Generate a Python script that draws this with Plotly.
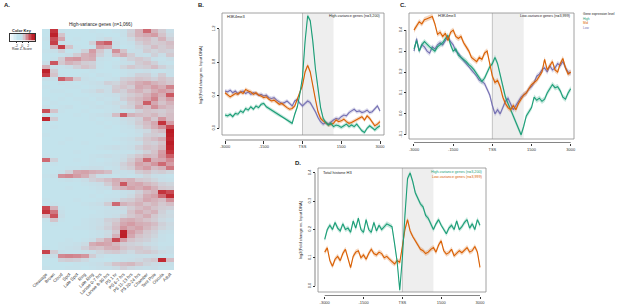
import plotly.graph_objects as go

W, H = 617, 305
def px(x): return x / W
def py(y): return 1 - y / H

FONT = "Liberation Sans, Arial, sans-serif"
GREEN, ORANGE, PURPLE = "#1b9e77", "#d95f02", "#7570b3"

# ---------------- Panel A data ----------------
stages = ["Cleavage", "Brown", "Cloud", "Spot", "Late Spot", "Ring", "Late Ring",
          "Larvae 0-7 hrs", "Larvae 8-30 hrs", "PS 1 hr", "PS 6-7 hrs", "PS 11-13 hrs",
          "PS 20-24 hrs", "Chamber", "Tent Pole", "Oscula", "Adult"]
heat_z = [
    [-0.5, 3.0, -0.4, -0.5, -0.5, -0.5, -0.4, -0.5, -0.5, -0.4, -0.3, 0.2, 0.8, 2.0, 0.8, 0.3, -0.2],
    [-0.5, 3.5, 0.5, -0.5, -0.5, -0.5, -0.5, -0.4, -0.5, -0.5, -0.3, 0.3, 0.8, 1.0, 1.2, 0.5, 0.0],
    [-0.4, 2.5, 1.0, -0.5, -0.4, -0.5, -0.5, -0.3, 0.0, -0.4, -0.4, 0.0, 0.5, 0.6, 0.3, 0.8, 0.2],
    [-0.5, 2.8, -0.3, -0.4, -0.5, -0.5, 0.2, 1.8, 2.2, -0.2, -0.4, -0.3, 0.2, 0.5, 0.3, 0.4, 0.6],
    [-0.5, 0.8, 2.8, 0.5, -0.4, -0.5, -0.4, 1.2, 1.0, -0.3, -0.5, -0.4, 0.0, 0.2, 0.6, 0.3, 0.5],
    [-0.4, -0.3, 0.2, -0.5, -0.4, 0.2, 1.2, 0.4, -0.2, 1.4, 0.5, -0.3, -0.2, 0.3, 0.1, 0.3, 0.2],
    [-0.5, -0.5, -0.4, -0.2, 0.3, 0.8, 1.0, 0.2, -0.3, 0.6, 0.9, 0.3, -0.2, -0.3, 0.2, -0.2, 0.4],
    [-0.5, -0.4, 0.3, 1.2, 1.3, 0.8, 0.9, -0.3, -0.4, -0.5, -0.2, 0.2, 0.4, 0.2, -0.3, -0.4, -0.2],
    [-0.2, 2.3, 0.4, 0.8, 0.6, 0.3, 0.2, -0.4, -0.5, -0.4, -0.3, -0.2, 0.3, 0.5, 0.2, -0.3, -0.4],
    [0.8, -0.3, -0.4, -0.2, 0.2, 0.5, 0.3, -0.4, -0.5, -0.3, 0.1, 0.4, 0.2, 0.3, 0.6, 0.2, -0.1],
    [3.5, 0.3, -0.5, -0.5, -0.5, -0.5, -0.4, -0.5, -0.5, -0.5, -0.4, -0.3, -0.3, -0.2, -0.4, -0.4, -0.3],
    [2.8, 0.5, -0.4, -0.5, -0.5, -0.4, -0.5, -0.3, -0.4, -0.5, -0.4, -0.2, 0.2, 0.2, -0.2, 0.3, -0.3],
    [-0.3, -0.3, 2.2, 1.5, 0.4, -0.3, -0.4, -0.5, -0.4, -0.3, 0.2, 0.3, 0.5, 0.4, 0.2, 0.5, 0.3],
    [-0.5, -0.5, -0.3, -0.4, -0.5, -0.4, -0.3, -0.2, 0.2, 0.1, 0.4, 0.6, 0.9, 1.1, 0.8, 0.6, 0.4],
    [-0.4, -0.5, -0.5, -0.4, -0.4, -0.5, -0.4, -0.3, -0.2, 0.3, 0.5, 0.3, 1.0, 0.8, 1.2, 0.9, 1.6],
    [-0.5, -0.4, -0.4, -0.5, -0.5, -0.3, -0.2, 0.1, -0.2, 0.4, 0.2, 0.6, 0.8, 0.5, 0.9, 1.2, 1.0],
    [-0.5, -0.5, -0.5, -0.4, -0.5, -0.5, -0.4, -0.4, -0.3, -0.2, 0.1, 0.3, 0.5, 0.8, 1.3, 0.9, 2.3],
    [-0.4, -0.5, -0.4, -0.5, -0.4, -0.4, -0.5, -0.3, -0.4, -0.3, 0.2, 0.5, 0.7, 1.0, 1.6, 0.7, 1.2],
    [-0.5, -0.4, -0.5, -0.5, -0.5, -0.4, -0.4, -0.5, -0.3, -0.1, -0.2, 0.3, 0.6, 2.2, 1.0, 0.5, 0.8],
    [-0.3, -0.5, -0.4, -0.3, -0.5, -0.5, -0.4, -0.3, -0.4, -0.3, 0.1, 0.2, 0.9, 0.6, 1.4, 0.8, 0.6],
    [2.5, 0.5, -0.4, -0.5, -0.5, -0.4, -0.5, -0.5, -0.4, -0.3, -0.4, -0.2, 0.2, 0.5, 0.4, 0.3, 0.5],
    [-0.4, -0.5, -0.5, -0.5, -0.4, -0.5, -0.4, -0.3, -0.2, 0.6, 2.2, 0.8, 0.6, 0.5, 0.7, 0.4, 0.6],
    [3.4, 0.3, -0.5, -0.5, -0.5, -0.5, -0.4, -0.5, -0.4, -0.4, -0.2, 0.0, 0.2, 0.9, 0.4, 1.3, 0.6],
    [-0.5, -0.5, -0.5, -0.5, -0.5, -0.5, -0.5, -0.4, -0.5, -0.4, -0.3, -0.1, 0.3, 0.6, 1.0, 3.0, 1.2],
    [-0.5, -0.4, -0.5, -0.5, -0.5, -0.5, -0.5, -0.5, -0.4, -0.5, -0.4, -0.3, 0.1, 0.5, 0.9, 1.4, 2.6],
    [-0.5, -0.5, -0.5, -0.5, -0.5, -0.5, -0.5, -0.5, -0.5, -0.5, -0.4, -0.4, -0.2, 0.0, 0.4, 0.6, 3.8],
    [-0.4, -0.5, -0.5, -0.5, -0.5, -0.5, -0.5, -0.4, -0.5, -0.5, -0.5, -0.4, -0.3, 0.2, 0.3, 0.2, 3.6],
    [-0.5, -0.5, -0.5, -0.4, -0.5, -0.5, -0.5, -0.5, -0.5, -0.4, -0.3, -0.2, 0.1, 0.4, 0.6, 0.9, 3.3],
    [-0.5, -0.5, -0.4, -0.5, -0.5, -0.4, -0.5, -0.5, -0.5, -0.5, -0.4, -0.3, -0.2, 0.3, 0.2, 0.5, 3.7],
    [-0.5, -0.5, -0.5, -0.5, -0.5, -0.5, -0.5, -0.4, -0.3, -0.2, -0.3, -0.2, 0.2, 0.5, 0.4, 0.7, 3.4],
    [-0.5, -0.5, -0.5, -0.5, -0.4, -0.5, -0.5, -0.5, -0.5, -0.4, -0.4, -0.4, -0.1, 0.2, 0.5, 1.2, 3.0],
    [-0.4, -0.5, -0.5, -0.5, -0.5, -0.5, -0.4, -0.3, -0.2, -0.3, -0.2, 0.1, 0.4, 0.7, 0.6, 1.3, 2.2],
    [2.0, 0.2, -0.5, -0.5, -0.4, -0.5, -0.4, -0.5, -0.4, -0.3, -0.1, 0.3, 0.8, 2.0, 0.9, 1.0, 1.5],
    [-0.5, -0.4, -0.5, -0.5, -0.5, -0.5, -0.4, -0.4, -0.3, -0.2, 0.2, 0.5, 1.1, 0.9, 1.3, 2.0, 1.2],
    [-0.5, -0.5, -0.5, -0.4, -0.4, -0.3, -0.2, -0.2, -0.4, -0.3, 0.1, 0.3, 0.9, 1.2, 0.6, 0.8, 1.8],
    [-0.5, -0.5, -0.3, 0.2, 1.0, 1.1, 0.9, 0.8, 0.6, -0.2, -0.3, -0.2, 0.3, 0.5, 0.2, 0.3, 0.1],
    [-0.4, -0.3, 1.4, 1.5, 1.2, 0.9, 0.3, -0.2, -0.3, -0.4, -0.3, -0.4, -0.2, 0.1, -0.2, -0.3, -0.4],
    [-0.5, -0.5, -0.4, -0.3, -0.4, -0.2, 0.2, 0.4, 0.6, 0.9, 0.7, 0.8, 0.4, 0.3, 0.1, -0.2, -0.3],
    [-0.5, -0.5, -0.5, -0.5, -0.5, -0.4, -0.3, -0.2, 0.3, 0.8, 2.3, 0.9, 1.0, 0.7, 0.5, 0.2, 0.1],
    [-0.5, -0.5, -0.5, -0.4, -0.5, -0.5, -0.4, -0.3, -0.2, 0.6, 0.8, 1.1, 0.9, 1.2, 0.8, 0.4, 0.3],
    [-0.5, -0.5, -0.5, -0.5, -0.5, -0.5, -0.5, -0.4, -0.5, -0.4, -0.3, -0.2, 0.2, 0.6, 0.8, 3.0, 2.5],
    [-0.5, -0.5, -0.5, -0.5, -0.5, -0.5, -0.4, -0.5, -0.4, -0.4, -0.3, 0.0, 0.4, 0.9, 1.1, 2.0, 3.2],
    [-0.4, -0.5, -0.5, -0.5, -0.4, -0.5, -0.5, -0.4, -0.3, -0.2, 0.2, 0.3, 0.6, 1.0, 0.8, 0.6, 1.4],
    [-0.5, -0.4, -0.5, -0.5, -0.5, -0.4, -0.3, -0.2, 0.3, 2.0, 0.8, 0.6, 0.8, 0.5, 0.7, 0.4, 0.6],
    [2.6, 0.8, -0.4, -0.5, -0.5, -0.5, -0.4, -0.4, -0.3, -0.2, 0.0, 0.3, 0.6, 0.8, 0.5, 0.3, 0.2],
    [3.0, 1.8, -0.3, -0.5, -0.5, -0.5, -0.5, -0.4, -0.3, -0.3, -0.2, 0.5, 0.9, 0.6, 0.8, 0.2, -0.1],
    [0.6, 2.4, -0.2, -0.5, -0.5, -0.5, -0.4, -0.4, -0.3, -0.2, 0.1, 0.4, 0.6, 0.9, 0.4, 0.1, 0.0],
    [-0.4, 0.5, -0.4, -0.5, -0.5, -0.4, -0.3, -0.2, 0.2, 0.3, 0.8, 0.9, 0.7, 0.5, 0.3, 0.0, -0.2],
    [-0.5, -0.4, -0.5, -0.5, -0.5, -0.4, -0.3, -0.2, 0.1, 0.5, 1.0, 1.2, 0.9, 0.8, 0.6, 0.2, 0.0],
    [-0.5, -0.5, -0.5, -0.5, -0.4, -0.4, -0.3, -0.1, 0.2, 0.6, 1.3, 0.9, 1.1, 0.7, 0.4, 0.1, -0.1],
    [-0.5, -0.5, -0.5, -0.5, -0.5, -0.5, -0.4, -0.3, -0.1, 0.4, 3.5, 1.2, 0.8, 0.4, 0.2, -0.2, -0.3],
    [-0.5, -0.5, -0.5, -0.5, -0.5, -0.5, -0.4, -0.3, 0.0, 0.8, 3.6, 1.0, 0.5, 0.3, 0.1, -0.3, -0.4],
    [-0.5, -0.5, -0.5, -0.4, -0.5, -0.4, -0.2, 0.4, 0.9, 2.6, 1.2, 0.5, 0.3, 0.2, -0.1, -0.3, -0.4],
    [-0.5, -0.5, -0.4, -0.4, -0.3, -0.1, 0.9, 1.1, 1.0, 0.7, 0.3, 0.2, 0.1, -0.1, -0.2, -0.4, -0.4],
    [-0.4, -0.5, -0.4, -0.3, -0.2, 0.2, 0.6, 0.5, 0.8, 0.9, 0.5, 0.3, 0.4, 0.2, 0.0, -0.3, -0.2],
    [2.7, 0.3, -0.3, -0.4, -0.4, -0.3, -0.2, 0.1, 0.3, 0.4, 0.2, 0.0, 0.3, 0.4, 0.2, 0.0, -0.2],
    [-0.3, -0.2, 1.5, 1.6, 1.5, 1.3, 0.3, -0.2, -0.4, -0.4, -0.3, -0.3, -0.2, -0.3, -0.2, -0.4, -0.4],
    [-0.5, -0.5, 0.2, 0.3, 0.2, 0.0, -0.4, -0.4, -0.5, -0.4, -0.3, -0.2, 0.0, 0.2, 0.4, 3.2, 0.6],
    [-0.5, -0.5, -0.5, -0.5, -0.4, -0.4, -0.3, -0.2, 0.1, 0.5, 0.6, 0.7, 0.4, 0.1, -0.1, -0.2, -0.3],
    [-0.4, -0.5, -0.5, -0.4, -0.4, -0.5, -0.4, -0.3, -0.3, -0.1, 0.2, 0.0, -0.2, -0.3, -0.2, -0.4, -0.4],
]
gene_rows = list(range(len(heat_z)))
key_levels = [-4, -3.5, -3, -2.5, -2, -1.5, -1, -0.5, 0, 0.5, 1, 1.5, 2, 2.5, 3, 3.5, 4]
key_ticks = [-2, 0, 2]

# ---------------- Profiles (B, C, D) ----------------
positions = list(range(-3000, 3001, 100))
tick_vals = [-3000, -1500, 0, 1500, 3000]
tick_text = ["-3000", "-1500", "TSS", "1500", "3000"]
shade_end = 1200

B_high = [0.16, 0.15, 0.17, 0.14, 0.18, 0.17, 0.21, 0.19, 0.24, 0.22, 0.26, 0.23, 0.27, 0.25, 0.29,
          0.30, 0.26, 0.24, 0.22, 0.20, 0.18, 0.16, 0.15, 0.13, 0.11, 0.08, 0.06, 0.17, 0.26, 0.42,
          0.62, 1.05, 1.36, 1.30, 1.05, 0.72, 0.45, 0.25, 0.12, 0.07, 0.04, 0.06, 0.02, 0.04, 0.03,
          0.01, 0.03, 0.05, 0.02, 0.04, 0.02, 0.05, 0.01, -0.03, -0.05, 0.00, 0.03, 0.01, -0.02, 0.01, 0.03]
B_mid = [0.43, 0.40, 0.38, 0.40, 0.42, 0.41, 0.44, 0.42, 0.47, 0.45, 0.44, 0.41, 0.43, 0.40, 0.39,
         0.37, 0.38, 0.35, 0.33, 0.34, 0.31, 0.29, 0.30, 0.27, 0.25, 0.23, 0.24, 0.27, 0.35, 0.43,
         0.52, 0.68, 0.76, 0.68, 0.50, 0.35, 0.20, 0.12, 0.09, 0.07, 0.04, 0.05, 0.06, 0.10, 0.08,
         0.09, 0.11, 0.08, 0.06, 0.07, 0.09, 0.11, 0.12, 0.14, 0.10, 0.15, 0.12, 0.07, 0.03, 0.05, 0.08]
B_low = [0.45, 0.44, 0.46, 0.43, 0.45, 0.42, 0.44, 0.45, 0.42, 0.44, 0.41, 0.43, 0.42, 0.40, 0.41,
         0.39, 0.40, 0.37, 0.36, 0.37, 0.34, 0.32, 0.30, 0.31, 0.33, 0.30, 0.27, 0.33, 0.35, 0.30,
         0.27, 0.30, 0.33, 0.31, 0.26, 0.20, 0.13, 0.08, 0.05, 0.07, 0.05, 0.08, 0.10, 0.12, 0.11,
         0.14, 0.16, 0.15, 0.19, 0.21, 0.23, 0.20, 0.21, 0.19, 0.20, 0.22, 0.19, 0.20, 0.24, 0.27, 0.21]
B_se = 0.025

C_high = [0.31, 0.35, 0.30, 0.33, 0.345, 0.33, 0.32, 0.31, 0.30, 0.32, 0.33, 0.34, 0.36, 0.375, 0.33,
          0.30, 0.31, 0.28, 0.27, 0.26, 0.25, 0.235, 0.225, 0.21, 0.19, 0.17, 0.155, 0.17, 0.20, 0.225,
          0.24, 0.27, 0.24, 0.19, 0.13, 0.08, 0.05, 0.02, -0.01, -0.04, -0.07, -0.10, -0.06, -0.01, 0.01,
          0.03, 0.08, 0.065, 0.075, 0.06, 0.07, 0.10, 0.12, 0.14, 0.125, 0.13, 0.11, 0.08, 0.07, 0.10, 0.12]
C_mid = [0.40, 0.42, 0.44, 0.43, 0.45, 0.455, 0.46, 0.465, 0.43, 0.38, 0.39, 0.37, 0.385, 0.35, 0.39,
         0.40, 0.37, 0.36, 0.37, 0.34, 0.32, 0.30, 0.27, 0.26, 0.25, 0.27, 0.26, 0.29, 0.30, 0.24,
         0.18, 0.15, 0.16, 0.13, 0.08, 0.05, 0.03, 0.02, 0.04, 0.02, 0.05, 0.07, 0.09, 0.10, 0.12,
         0.14, 0.15, 0.16, 0.18, 0.20, 0.26, 0.21, 0.23, 0.25, 0.21, 0.20, 0.24, 0.265, 0.22, 0.19, 0.20]
C_low = [0.30, 0.36, 0.30, 0.33, 0.32, 0.30, 0.29, 0.32, 0.31, 0.33, 0.34, 0.33, 0.35, 0.37, 0.345,
         0.33, 0.30, 0.29, 0.27, 0.255, 0.24, 0.23, 0.21, 0.20, 0.18, 0.16, 0.155, 0.145, 0.12, 0.09,
         0.04, 0.00, 0.02, 0.00, 0.03, 0.06, 0.075, 0.05, 0.02, 0.04, 0.06, 0.08, 0.09, 0.10, 0.12,
         0.13, 0.15, 0.18, 0.19, 0.21, 0.22, 0.20, 0.23, 0.21, 0.22, 0.24, 0.23, 0.25, 0.22, 0.20, 0.195]
C_se = 0.013

D_high = [0.165, 0.20, 0.215, 0.20, 0.225, 0.205, 0.195, 0.22, 0.20, 0.205, 0.19, 0.23, 0.205, 0.24, 0.20,
          0.19, 0.235, 0.20, 0.19, 0.225, 0.195, 0.215, 0.20, 0.21, 0.22, 0.215, 0.21, 0.15, 0.085, -0.015,
          0.10, 0.25, 0.38, 0.40, 0.37, 0.33, 0.31, 0.29, 0.28, 0.25, 0.24, 0.22, 0.20, 0.22, 0.235,
          0.215, 0.20, 0.185, 0.205, 0.215, 0.20, 0.23, 0.20, 0.21, 0.225, 0.235, 0.205, 0.22, 0.20, 0.235, 0.215]
D_low = [0.12, 0.135, 0.09, 0.07, 0.095, 0.105, 0.09, 0.115, 0.13, 0.10, 0.065, 0.105, 0.12, 0.125, 0.10,
         0.11, 0.095, 0.115, 0.13, 0.115, 0.11, 0.12, 0.115, 0.10, 0.105, 0.095, 0.085, 0.078, 0.09, 0.084,
         0.14, 0.20, 0.235, 0.195, 0.175, 0.16, 0.145, 0.13, 0.125, 0.115, 0.12, 0.13, 0.136, 0.12, 0.145,
         0.16, 0.125, 0.113, 0.118, 0.13, 0.107, 0.115, 0.125, 0.118, 0.128, 0.136, 0.12, 0.125, 0.14, 0.12, 0.066]
D_se = 0.009


def rgba(hexc, a):
    h = hexc.lstrip("#")
    return "rgba(%d,%d,%d,%s)" % (int(h[0:2], 16), int(h[2:4], 16), int(h[4:6], 16), a)


fig = go.Figure()

heat_colors = [[0.0, "#f6fbfc"], [0.3, "#c3e5ee"], [0.44, "#c3e3ec"], [0.5, "#ccd9e1"],
               [0.56, "#d4c4cb"], [0.65, "#d49ca5"], [0.78, "#cc5b64"], [0.9, "#c12a33"], [1.0, "#b7151f"]]
fig.add_trace(go.Heatmap(z=heat_z, x=stages, y=gene_rows, xaxis="x", yaxis="y",
                         colorscale=heat_colors, zmin=-4, zmax=4, showscale=False, hoverinfo="skip"))
# colour key
fig.add_trace(go.Heatmap(z=[key_levels], x=key_levels, y=[0], xaxis="x5", yaxis="y5",
                         colorscale=heat_colors, zmin=-4, zmax=4, showscale=False, hoverinfo="skip"))


def add_series(xa, ya, vals, se, color):
    up = [v + se for v in vals]
    lo = [v - se for v in vals]
    fig.add_trace(go.Scatter(x=positions + positions[::-1], y=up + lo[::-1], xaxis=xa, yaxis=ya,
                             fill="toself", fillcolor=rgba(color, 0.25), line=dict(width=0),
                             mode="lines", hoverinfo="skip", showlegend=False))
    fig.add_trace(go.Scatter(x=positions, y=vals, xaxis=xa, yaxis=ya, mode="lines",
                             line=dict(color=color, width=1.1), showlegend=False))


add_series("x2", "y2", B_low, B_se, PURPLE)
add_series("x2", "y2", B_mid, B_se, ORANGE)
add_series("x2", "y2", B_high, B_se, GREEN)
add_series("x3", "y3", C_low, C_se, PURPLE)
add_series("x3", "y3", C_high, C_se, GREEN)
add_series("x3", "y3", C_mid, C_se, ORANGE)
add_series("x4", "y4", D_low, D_se, ORANGE)
add_series("x4", "y4", D_high, D_se, GREEN)

tickfont = dict(size=4, family=FONT, color="#333")
panels = {
    "2": dict(frame=(222, 384, 13, 135), xline=140, yline=219, xr=[-3116, 3155], yr=[-0.081, 1.393],
              yt=[0.0, 0.4, 0.8, 1.2]),
    "3": dict(frame=(409, 574, 13, 139), xline=142.5, yline=406, xr=[-3191, 3126], yr=[-0.12, 0.482],
              yt=[-0.1, 0.0, 0.1, 0.2, 0.3, 0.4]),
    "4": dict(frame=(318, 486, 168, 292), xline=295.5, yline=315, xr=[-3259, 3232], yr=[-0.021, 0.4175],
              yt=[0.0, 0.1, 0.2, 0.3, 0.4]),
}

layout_axes = {}
shapes = []
for k, p in panels.items():
    l, r, t, b = p["frame"]
    layout_axes["xaxis" + k] = dict(domain=[px(l), px(r)], range=p["xr"], anchor="free",
                                    position=py(p["xline"]), tickvals=tick_vals, ticktext=tick_text,
                                    ticks="outside", ticklen=2.5, tickwidth=0.6, tickcolor="#333",
                                    tickfont=tickfont, showline=False, showgrid=False, zeroline=False,
                                    automargin=False)
    layout_axes["yaxis" + k] = dict(domain=[py(b), py(t)], range=p["yr"], anchor="free",
                                    position=px(p["yline"]), tickvals=p["yt"],
                                    ticktext=[("%.1f" % v) for v in p["yt"]], tickangle=-90,
                                    ticks="outside", ticklen=2.5, tickwidth=0.6, tickcolor="#333",
                                    tickfont=tickfont, showline=False, showgrid=False, zeroline=False,
                                    automargin=False)
    xr, yr = "x" + k, "y" + k
    shapes += [
        dict(type="rect", xref=xr, yref=yr + " domain", x0=0, x1=shade_end, y0=0, y1=1,
             fillcolor="#eeeeee", line=dict(width=0), layer="below"),
        dict(type="line", xref=xr, yref=yr + " domain", x0=0, x1=0, y0=0, y1=1,
             line=dict(color="#b5b5b5", width=0.8), layer="below"),
        dict(type="rect", xref=xr + " domain", yref=yr + " domain", x0=0, x1=1, y0=0, y1=1,
             line=dict(color="#8c8c8c", width=0.8), layer="above"),
        dict(type="line", xref=xr, yref="paper", x0=tick_vals[0], x1=tick_vals[-1],
             y0=py(p["xline"]), y1=py(p["xline"]), line=dict(color="#333", width=0.6)),
        dict(type="line", xref="paper", yref=yr, x0=px(p["yline"]), x1=px(p["yline"]),
             y0=p["yt"][0], y1=p["yt"][-1], line=dict(color="#333", width=0.6)),
    ]


def ann(x, y, text, size=4, color="#222", xanchor="left", yanchor="middle", angle=0, bold=False):
    return dict(x=px(x), y=py(y), xref="paper", yref="paper", text=("<b>%s</b>" % text) if bold else text,
                showarrow=False, xanchor=xanchor, yanchor=yanchor, textangle=angle,
                font=dict(size=size, family=FONT, color=color))


annotations = [
    ann(2, 5, "A.", size=6, bold=True),
    ann(196, 5, "B.", size=6, bold=True),
    ann(398, 5, "C.", size=6, bold=True),
    ann(293, 163, "D.", size=6, bold=True),
    ann(101, 25, "High-variance genes (n=1,066)", size=4.6, xanchor="center"),
    ann(22, 30.5, "Color Key", size=4, xanchor="center", bold=True),
    ann(22, 49, "Row Z-Score", size=3.4, xanchor="center"),
    ann(200, 75, "log2(Fold change vs. Input DNA)", size=4, xanchor="center", angle=-90),
    ann(301, 230, "log2(Fold change vs. Input DNA)", size=4, xanchor="center", angle=-90),
    ann(225, 16, "H3K4me3", size=4),
    ann(382, 15.5, "High-variance genes (n=3,200)", size=3.7, xanchor="right"),
    ann(436, 15.5, "H3K4me3", size=4),
    ann(572, 15.5, "Low-variance genes (n=3,999)", size=3.7, xanchor="right"),
    ann(581, 14, "Gene expression level", size=3.2),
    ann(581, 18.7, "High", size=3.2, color=GREEN),
    ann(581, 23.3, "Mid", size=3.2, color=ORANGE),
    ann(581, 28, "Low", size=3.2, color=PURPLE),
    ann(321, 172, "Total histone H3", size=4),
    ann(484, 172, "High-variance genes (n=3,200)", size=3.7, xanchor="right", color=GREEN),
    ann(484, 176.5, "Low-variance genes (n=3,999)", size=3.7, xanchor="right", color=ORANGE),
]

fig.update_layout(
    width=W, height=H, margin=dict(l=0, r=0, t=0, b=0, autoexpand=False),
    paper_bgcolor="white", plot_bgcolor="white", showlegend=False,
    font=dict(family=FONT, size=4, color="#333"),
    xaxis=dict(domain=[px(42), px(174)], anchor="y", tickangle=-45, ticks="", showgrid=False,
               zeroline=False, showline=False, automargin=False,
               tickfont=dict(size=4.4, family=FONT, color="#333")),
    yaxis=dict(domain=[py(270), py(29)], anchor="x", autorange="reversed", showticklabels=False,
               ticks="", showgrid=False, zeroline=False, showline=False, automargin=False),
    xaxis5=dict(domain=[px(9.5), px(35)], anchor="y5", range=[-4.25, 4.25], tickvals=key_ticks,
                ticktext=[str(v) for v in key_ticks], ticks="outside", ticklen=1.2, tickwidth=0.5,
                tickcolor="#333", tickfont=dict(size=3.4, family=FONT, color="#333"),
                showline=True, mirror=True, linecolor="#333", linewidth=0.6,
                showgrid=False, zeroline=False, automargin=False),
    yaxis5=dict(domain=[py(40.5), py(33.5)], anchor="x5", range=[-0.5, 0.5], showticklabels=False,
                ticks="", showline=True, mirror=True, linecolor="#333", linewidth=0.6,
                showgrid=False, zeroline=False, automargin=False),
    shapes=shapes, annotations=annotations,
    **layout_axes,
)

fig.write_html("out.html", config={"displayModeBar": False},
               post_script="document.body.style.margin='0';")
